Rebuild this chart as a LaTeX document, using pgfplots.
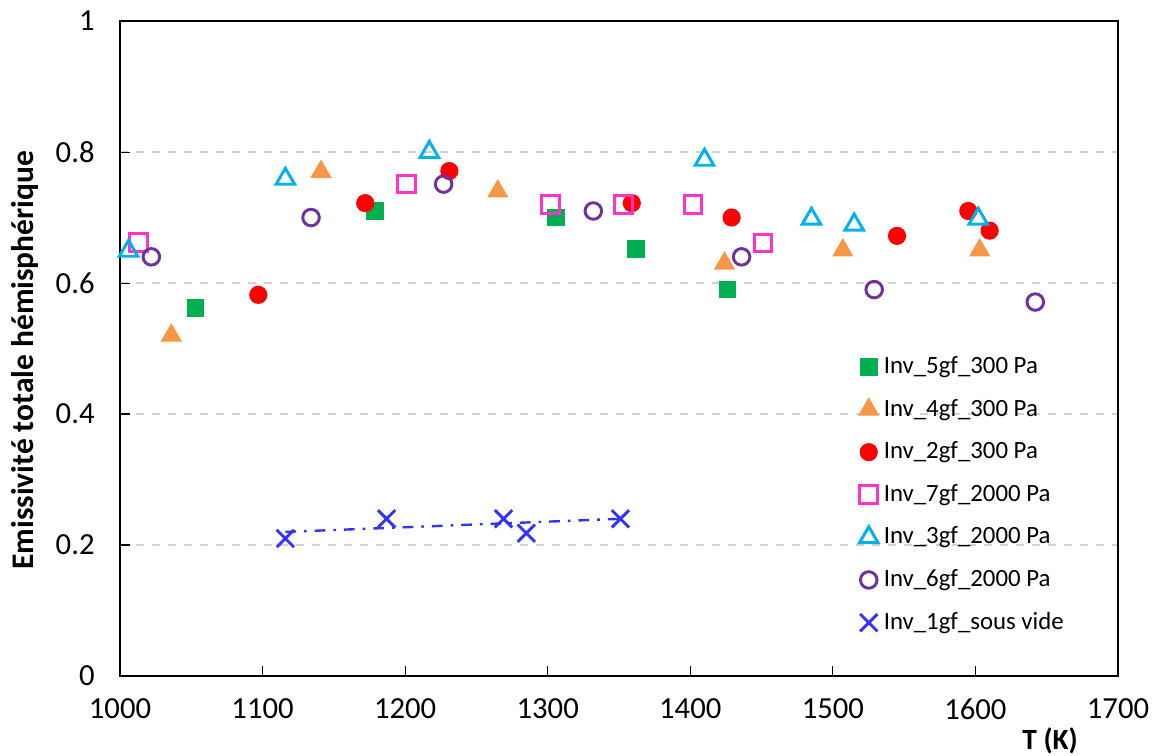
\documentclass[border=0pt]{standalone}
\usepackage{pgfplots}
\pgfplotsset{compat=1.18}
\usepackage{fontspec}
\setmainfont{Carlito}
\definecolor{cgreen}{HTML}{00B050}
\definecolor{corange}{HTML}{F79646}
\definecolor{cred}{HTML}{FF0000}
\definecolor{cmag}{HTML}{FF33CC}
\definecolor{ccyan}{HTML}{00B0F0}
\definecolor{cpurple}{HTML}{7030A0}
\definecolor{cblue}{HTML}{3333FF}
\begin{document}
\begin{tikzpicture}
\useasboundingbox (-45pt,-30pt) rectangle (389.25pt,253.5pt);
\begin{axis}[
scale only axis,
width=374.25pt, height=245.6pt,
xmin=1000, xmax=1700, ymin=0, ymax=1,
xtick={1000,1100,...,1700},
ytick={0,0.2,...,1},
yticklabels={0,0.2,0.4,0.6,0.8,1},
xtick pos=bottom, ytick pos=left,
major tick length=3.75pt,
tick style={black, line width=0.4pt},
axis line style={black, line width=0.6pt},
ymajorgrids,
grid style={dashed, gray!35, line width=0.5pt},
/pgf/number format/assume math mode=true,
/pgf/number format/1000 sep={},
tick label style={font=\fontsize{11.5}{13}\selectfont},
xticklabel style={yshift=-5pt},
yticklabel style={xshift=-6pt},
xlabel={\textbf{T (K)}},
xlabel style={at={(axis description cs:0.932,0)}, anchor=center, yshift=-24.5pt, font=\fontsize{11}{12}\selectfont},
ylabel={\textbf{Emissivité totale hémisphérique}},
ylabel style={at={([xshift=-35.5pt]axis description cs:0,0.482)}, anchor=center, font=\fontsize{11.8}{13}\selectfont},
legend style={at={(0.732,0.505)}, anchor=north west, draw=none, fill=none,
  font=\fontsize{9.3}{10}\selectfont, row sep=4.1pt,
  /tikz/every even column/.append style={column sep=0pt}},
legend cell align=left,
legend image code/.code={\draw[#1] plot coordinates {(0.15cm,0cm)};},
]
\addplot[only marks, mark=square*, mark size=3.1pt, color=cgreen] coordinates {
(1053,0.562) (1179,0.71) (1306,0.70) (1362,0.652) (1426,0.59)
};
\addlegendentry{Inv\_5gf\_300 Pa}
\addplot[only marks, mark=triangle*, mark size=4.2pt, color=corange] coordinates {
(1036,0.52) (1141,0.77) (1265,0.74) (1424,0.63) (1507,0.65) (1603,0.65)
};
\addlegendentry{Inv\_4gf\_300 Pa}
\addplot[only marks, mark=*, mark size=3.2pt, color=cred] coordinates {
(1097,0.582) (1172,0.722) (1231,0.771) (1359,0.722) (1429,0.70) (1545,0.672) (1595,0.71) (1610,0.68)
};
\addlegendentry{Inv\_2gf\_300 Pa}
\addplot[only marks, mark=square, mark size=3.3pt, color=cmag, mark options={line width=1.1pt}] coordinates {
(1013,0.662) (1201,0.751) (1302,0.72) (1353,0.72) (1402,0.72) (1451,0.661)
};
\addlegendentry{Inv\_7gf\_2000 Pa}
\addplot[only marks, mark=triangle, mark size=4.0pt, color=ccyan, mark options={line width=1.1pt}] coordinates {
(1006,0.649) (1116,0.759) (1217,0.80) (1410,0.788) (1485,0.698) (1515,0.689) (1602,0.698)
};
\addlegendentry{Inv\_3gf\_2000 Pa}
\addplot[only marks, mark=o, mark size=3.1pt, color=cpurple, mark options={line width=1.1pt}] coordinates {
(1022,0.64) (1134,0.70) (1227,0.751) (1332,0.71) (1436,0.64) (1529,0.59) (1642,0.571)
};
\addlegendentry{Inv\_6gf\_2000 Pa}
\addplot[only marks, mark=x, mark size=4.6pt, color=cblue, mark options={line width=1.1pt}] coordinates {
(1116,0.21) (1187,0.24) (1269,0.24) (1285,0.218) (1351,0.24)
};
\addlegendentry{Inv\_1gf\_sous vide}
\addplot[forget plot, color=cblue, line width=0.9pt, dash pattern=on 4pt off 3pt on 1pt off 3pt] coordinates {
(1116,0.220) (1351,0.240)
};
\end{axis}
\end{tikzpicture}
\end{document}
